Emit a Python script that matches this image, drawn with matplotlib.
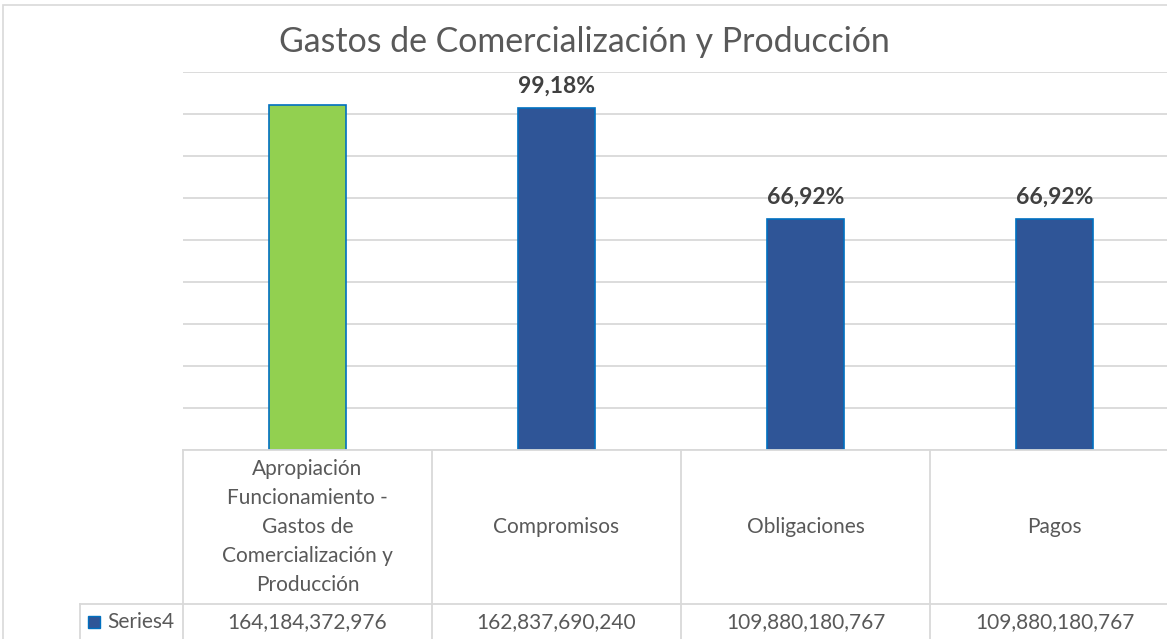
import numpy as np
import matplotlib.pyplot as plt
from matplotlib.patches import Rectangle

categorias = ['Apropiación\nFuncionamiento -\nGastos de\nComercialización y\nProducción',
              'Compromisos', 'Obligaciones', 'Pagos']
valores = [164184372976, 162837690240, 109880180767, 109880180767]
colores = ['#92D050', '#2F5597', '#2F5597', '#2F5597']
serie = 'Series4'
titulo = 'Gastos de Comercialización y Producción'

W, H = 1167, 639
plt.rcParams['font.family'] = ['Lato', 'DejaVu Sans']
fig = plt.figure(figsize=(W / 100, H / 100), dpi=100)

def fx(px):
    return px / W

def fy(py):
    return 1 - py / H

gris = '#D9D9D9'
texto = '#595959'

# marco del grafico
fig.patches.append(Rectangle((fx(3), fy(700)), fx(1300), fy(5) - fy(700),
                             transform=fig.transFigure, fill=False,
                             edgecolor=gris, lw=1.2))

# area de trazado (se sale por la derecha como en la imagen)
ax = fig.add_axes([fx(183), fy(450), fx(1179) - fx(183), fy(72) - fy(450)])
x = np.arange(len(valores))
ax.bar(x, valores, width=0.31, color=colores, edgecolor='#0070C0', lw=1.2, zorder=3)
ax.set_xlim(-0.5, len(valores) - 0.5)
ax.set_ylim(0, 180e9)
ax.set_yticks(np.arange(0, 181e9, 20e9))
ax.grid(axis='y', color=gris, lw=1.3, zorder=0)
ax.set_xticks([])
ax.tick_params(left=False, labelleft=False)
for s in ax.spines.values():
    s.set_visible(False)

# porcentajes de ejecucion
for i in range(1, len(valores)):
    pct = valores[i] / valores[0] * 100
    etiqueta = f'{pct:.2f}%'.replace('.', ',')
    ax.annotate(etiqueta, (x[i], valores[i]), xytext=(0, 8), textcoords='offset points',
                ha='center', va='bottom', fontsize=16.5, fontweight='bold', color='#404040')

fig.text(fx(584), fy(42), titulo, ha='center', va='center', fontsize=24.4, color=texto)

# tabla de datos
bordes = [fx(183) + (fx(1179) - fx(183)) * k / len(valores) for k in range(len(valores) + 1)]
lin = dict(color=gris, lw=1.3, transform=fig.transFigure, clip_on=False)
fig.add_artist(plt.Line2D([fx(183), 1.2], [fy(450), fy(450)], **lin))
fig.add_artist(plt.Line2D([fx(80), 1.2], [fy(604), fy(604)], **lin))
fig.add_artist(plt.Line2D([fx(80), fx(80)], [fy(604), fy(700)], **lin))
for b in bordes:
    fig.add_artist(plt.Line2D([b, b], [fy(450), fy(700)], **lin))

for i, (cat, v) in enumerate(zip(categorias, valores)):
    cx = (bordes[i] + bordes[i + 1]) / 2
    fig.text(cx, fy(527), cat, ha='center', va='center', fontsize=15,
             color=texto, linespacing=1.55)
    fig.text(cx, fy(622), f'{v:,}', ha='center', va='center', fontsize=15, color=texto)

fig.patches.append(Rectangle((fx(88), fy(628)), fx(12), fy(616) - fy(628),
                             transform=fig.transFigure, facecolor='#2F5597',
                             edgecolor='#0070C0', lw=1))
fig.text(fx(107), fy(622), serie, ha='left', va='center', fontsize=15, color=texto)

fig.savefig('out.png', dpi=100)
